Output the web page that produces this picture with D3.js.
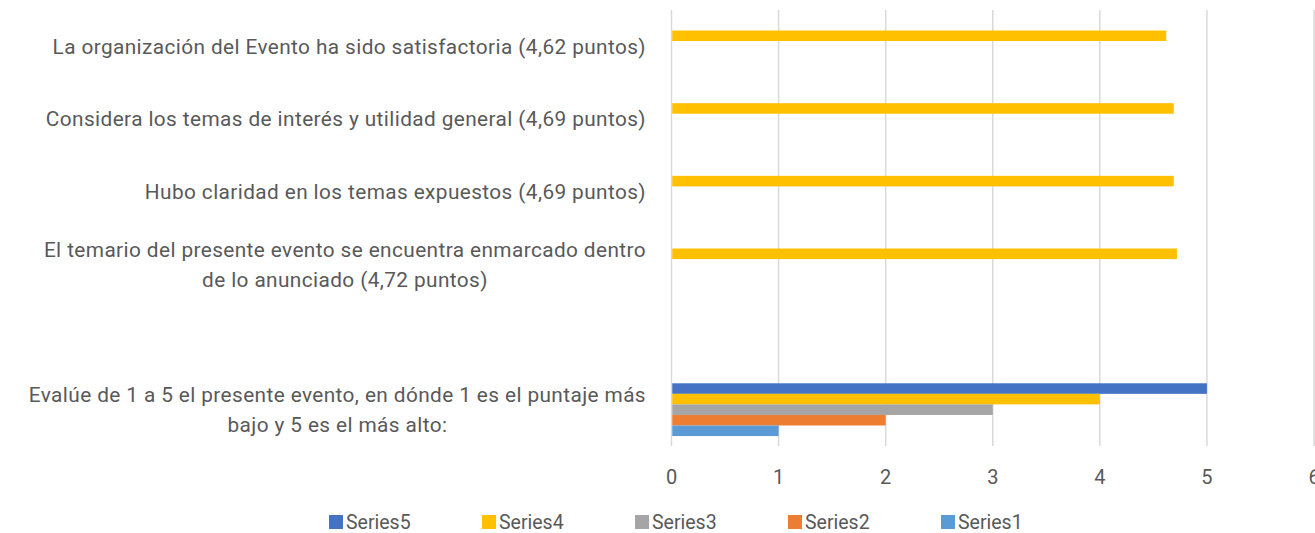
<!DOCTYPE html>
<html lang="en">
<head>
<meta charset="UTF-8">
<title>Evaluación del evento</title>
<style>
    body { margin: 0; background: #fff; }
    svg { display: block; }
    text { font-family: Roboto, "Liberation Sans", sans-serif; fill: #595959; }
</style>
</head>
<body>
<script src="https://cdn.jsdelivr.net/npm/d3@7"></script>
<script>
    const width = 1315;
    const height = 533;

    // categories top to bottom, wrapped as in the picture (one is empty)
    const categories = ["c1", "c2", "c3", "c4", "c5", "c6"];
    const labelLines = [
        ["La organización del Evento ha sido satisfactoria (4,62 puntos)"],
        ["Considera los temas de interés y utilidad general (4,69 puntos)"],
        ["Hubo claridad en los temas expuestos (4,69 puntos)"],
        ["El temario del presente evento se encuentra enmarcado dentro", "de lo anunciado (4,72 puntos)"],
        [],
        ["Evalúe de 1 a 5 el presente evento, en dónde 1 es el puntaje más", "bajo y 5 es el más alto:"]
    ];

    const seriesNames = ["Series5", "Series4", "Series3", "Series2", "Series1"];
    const series5 = [null, null, null, null, null, 5];
    const series4 = [4.62, 4.69, 4.69, 4.72, null, 4];
    const series3 = [null, null, null, null, null, 3];
    const series2 = [null, null, null, null, null, 2];
    const series1 = [null, null, null, null, null, 1];
    const seriesValues = [series5, series4, series3, series2, series1];
    const colors = ["#4472C4", "#FFC000", "#A5A5A5", "#ED7D31", "#5B9BD5"];
    const xTicks = [0, 1, 2, 3, 4, 5, 6];

    const plot = {left: 671.5, right: 1314, top: 10, bottom: 446};

    const svg = d3.select("body").append("svg")
        .attr("width", width)
        .attr("height", height);

    const x = d3.scaleLinear().domain([0, 6]).range([plot.left, plot.right]);
    const y = d3.scaleBand().domain(categories).range([plot.top, plot.bottom])
        .paddingInner(0.274).paddingOuter(0.137);
    const ys = d3.scaleBand().domain(seriesNames).range([0, y.bandwidth()]);

    // gridlines
    svg.append("g").selectAll("line")
        .data(xTicks)
        .join("line")
        .attr("x1", d => x(d)).attr("x2", d => x(d))
        .attr("y1", plot.top).attr("y2", plot.bottom)
        .attr("stroke", "#d9d9d9")
        .attr("stroke-width", 1.5);

    // bars
    seriesNames.forEach((s, si) => {
        const rows = categories.map((c, i) => ({c: c, v: seriesValues[si][i]}))
            .filter(d => d.v != null);
        svg.append("g").selectAll("rect")
            .data(rows)
            .join("rect")
            .attr("x", x(0) + 0.75)
            .attr("y", d => y(d.c) + ys(s))
            .attr("width", d => x(d.v) - x(0) - 0.75)
            .attr("height", ys.bandwidth())
            .attr("fill", colors[si]);
    });

    // x tick labels
    svg.append("g").selectAll("text")
        .data(xTicks)
        .join("text")
        .attr("x", d => x(d))
        .attr("y", 477)
        .attr("dy", "0.35em")
        .attr("text-anchor", "middle")
        .attr("font-size", 20)
        .text(d => d);

    // category labels: block right-aligned, lines centred within block
    const lineH = 30;
    const labelRight = 646;
    categories.forEach((c, i) => {
        const lines = labelLines[i];
        if (!lines.length) return;
        const g = svg.append("g");
        const cy = y(c) + y.bandwidth() / 2;
        const texts = lines.map((t, li) => g.append("text")
            .attr("y", cy + (li - (lines.length - 1) / 2) * lineH)
            .attr("dy", "0.35em")
            .attr("text-anchor", "middle")
            .attr("font-size", 20.8)
            .attr("letter-spacing", 0.4)
            .text(t));
        const w = d3.max(texts, t => t.node().getComputedTextLength());
        texts.forEach(t => t.attr("x", labelRight - w / 2));
    });

    // legend
    const legend = svg.append("g").selectAll("g")
        .data(seriesNames)
        .join("g")
        .attr("transform", (d, i) => `translate(${329 + i * 153},0)`);
    legend.append("rect")
        .attr("x", 0).attr("y", 515)
        .attr("width", 14).attr("height", 14)
        .attr("fill", (d, i) => colors[i]);
    legend.append("text")
        .attr("x", 17).attr("y", 522)
        .attr("dy", "0.35em")
        .attr("font-size", 19.5)
        .text(d => d);
</script>
</body>
</html>
